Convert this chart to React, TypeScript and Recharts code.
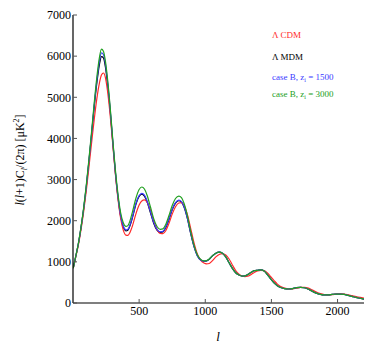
import React from 'react';
import { LineChart, Line, XAxis, YAxis } from 'recharts';

const ells = [2, 20, 40, 60, 80, 100, 120, 140, 160, 180, 200, 215, 230, 245, 260, 280, 300, 320, 340, 360, 380, 400, 415, 430, 450, 475, 500, 520, 540, 560, 585, 610, 635, 660, 680, 700, 725, 750, 775, 800, 820, 840, 865, 890, 915, 940, 965, 990, 1010, 1030, 1055, 1080, 1105, 1130, 1155, 1180, 1205, 1230, 1255, 1280, 1300, 1320, 1345, 1370, 1395, 1420, 1445, 1470, 1495, 1520, 1545, 1570, 1600, 1630, 1660, 1690, 1720, 1750, 1780, 1810, 1840, 1870, 1900, 1930, 1960, 1990, 2020, 2050, 2080, 2110, 2140, 2170, 2200];

const lcdm = [850, 1110, 1400, 1770, 2210, 2720, 3290, 3880, 4450, 4960, 5350, 5540, 5590, 5480, 5180, 4600, 3880, 3150, 2530, 2060, 1770, 1650, 1645, 1710, 1880, 2160, 2380, 2480, 2505, 2450, 2260, 2000, 1790, 1690, 1685, 1750, 1930, 2160, 2340, 2430, 2440, 2370, 2150, 1810, 1460, 1190, 1040, 970, 950, 960, 1030, 1120, 1180, 1200, 1165, 1070, 925, 790, 700, 655, 640, 650, 690, 740, 780, 795, 785, 730, 640, 545, 460, 400, 360, 342, 342, 360, 378, 380, 360, 315, 268, 230, 205, 196, 204, 216, 222, 218, 200, 178, 155, 135, 118];

const lmdm = [850, 1120, 1430, 1820, 2270, 2800, 3420, 4070, 4750, 5340, 5800, 5990, 5960, 5740, 5360, 4710, 3930, 3180, 2570, 2110, 1850, 1755, 1770, 1870, 2080, 2390, 2590, 2645, 2600, 2460, 2200, 1940, 1770, 1715, 1725, 1825, 2025, 2265, 2425, 2485, 2450, 2325, 2050, 1685, 1370, 1150, 1045, 1015, 1022, 1065, 1148, 1210, 1235, 1210, 1120, 980, 840, 735, 680, 655, 660, 690, 740, 785, 795, 805, 780, 690, 585, 490, 420, 375, 350, 340, 350, 372, 382, 370, 335, 285, 240, 210, 196, 198, 210, 218, 218, 208, 185, 160, 135, 115, 95];

const caseB1500 = [850, 1120, 1430, 1820, 2280, 2820, 3440, 4100, 4790, 5400, 5880, 6080, 6040, 5810, 5420, 4750, 3960, 3200, 2590, 2130, 1870, 1775, 1790, 1890, 2100, 2410, 2610, 2665, 2620, 2480, 2220, 1960, 1790, 1730, 1740, 1840, 2040, 2280, 2440, 2500, 2465, 2340, 2060, 1690, 1370, 1150, 1045, 1015, 1022, 1065, 1148, 1210, 1235, 1210, 1120, 980, 840, 735, 680, 655, 660, 690, 740, 785, 795, 805, 780, 690, 585, 490, 420, 375, 350, 340, 350, 372, 382, 370, 335, 285, 240, 210, 196, 198, 210, 218, 218, 208, 185, 160, 135, 115, 95];

const caseB3000 = [850, 1120, 1430, 1830, 2300, 2850, 3480, 4150, 4850, 5480, 5970, 6170, 6120, 5880, 5480, 4800, 4000, 3250, 2650, 2200, 1950, 1860, 1880, 1990, 2220, 2540, 2760, 2820, 2770, 2620, 2340, 2050, 1860, 1790, 1800, 1900, 2120, 2370, 2540, 2600, 2560, 2420, 2120, 1730, 1400, 1170, 1060, 1025, 1030, 1070, 1150, 1210, 1235, 1210, 1120, 980, 840, 735, 680, 655, 660, 690, 740, 785, 795, 805, 780, 690, 585, 490, 420, 375, 350, 340, 350, 372, 382, 370, 335, 285, 240, 210, 196, 198, 210, 218, 218, 208, 185, 160, 135, 115, 95];

const yTicks = [0, 1000, 2000, 3000, 4000, 5000, 6000, 7000];
const xTicks = [500, 1000, 1500, 2000];

const data = ells.map((l, i) => ({
  l,
  lcdm: lcdm[i],
  lmdm: lmdm[i],
  b1500: caseB1500[i],
  b3000: caseB3000[i],
}));

const FONT = "'Liberation Serif', 'Times New Roman', Times, serif";
const RED = '#ff2a2a';
const BLUE = '#3a3aff';
const GREEN = '#22a022';
const tickStyle = { fontFamily: FONT, fontSize: 12, fill: '#000', style: { fontFamily: FONT } };

export default function App() {
  return (
    <div style={{ position: 'absolute', left: 0, top: 0, width: 386, height: 355, background: '#fff', fontFamily: FONT }}>
      <LineChart
        width={386}
        height={355}
        data={data}
        margin={{ top: 15, right: 22, bottom: 22, left: 13 }}
        style={{ fontFamily: FONT }}
      >
        <XAxis
          dataKey="l"
          type="number"
          domain={[0, 2200]}
          ticks={xTicks}
          allowDataOverflow
          height={30}
          tickSize={-4}
          tickMargin={7}
          axisLine={{ stroke: '#000', strokeWidth: 1.2 }}
          tickLine={{ stroke: '#555' }}
          tick={tickStyle}
        />
        <XAxis
          xAxisId="t"
          orientation="top"
          type="number"
          domain={[0, 2200]}
          ticks={xTicks}
          height={0}
          tickSize={-4}
          tickFormatter={() => ''}
          axisLine={{ stroke: '#999', strokeWidth: 2 }}
          tickLine={{ stroke: '#555' }}
        />
        <YAxis
          type="number"
          domain={[0, 7000]}
          ticks={yTicks}
          width={60}
          tickSize={-4}
          tickMargin={6}
          axisLine={{ stroke: '#000', strokeWidth: 1.2 }}
          tickLine={{ stroke: '#555' }}
          tick={tickStyle}
        />
        <YAxis
          yAxisId="r"
          orientation="right"
          type="number"
          domain={[0, 7000]}
          ticks={yTicks}
          width={0}
          tickSize={-4}
          tickFormatter={() => ''}
          axisLine={{ stroke: '#666', strokeWidth: 1.5 }}
          tickLine={{ stroke: '#555' }}
        />
        <Line type="monotone" dataKey="lmdm" stroke="#000" strokeWidth={1.2} dot={false} isAnimationActive={false} />
        <Line type="monotone" dataKey="lcdm" stroke={RED} strokeWidth={1.2} dot={false} isAnimationActive={false} />
        <Line type="monotone" dataKey="b1500" stroke={BLUE} strokeWidth={1.2} dot={false} isAnimationActive={false} />
        <Line type="monotone" dataKey="b3000" stroke={GREEN} strokeWidth={1.2} dot={false} isAnimationActive={false} />
      </LineChart>
      <svg
        width={386}
        height={355}
        style={{ position: 'absolute', left: 0, top: 0, pointerEvents: 'none', fontFamily: FONT }}
      >
        <g fontSize={9}>
          <text x={272} y={38} fill={RED}>Λ CDM</text>
          <text x={272} y={60} fill="#000">Λ MDM</text>
          <text x={272} y={80} fill={BLUE}>
            case B, z<tspan fontSize={6} dy={2}>i</tspan><tspan dy={-2}> = 1500</tspan>
          </text>
          <text x={272} y={97} fill={GREEN}>
            case B, z<tspan fontSize={6} dy={2}>i</tspan><tspan dy={-2}> = 3000</tspan>
          </text>
        </g>
        <text
          x={24}
          y={160}
          transform="rotate(-90 24 160)"
          textAnchor="middle"
          fontSize={12}
          fill="#000"
        >
          <tspan fontStyle="italic">l</tspan>(<tspan fontStyle="italic">l</tspan>+1)C<tspan fontSize={8} dy={3} fontStyle="italic">l</tspan><tspan dy={-3}>/(2π) [μK</tspan><tspan fontSize={8} dy={-5}>2</tspan><tspan dy={5}>]</tspan>
        </text>
        <text x={218} y={341} textAnchor="middle" fontSize={13} fontStyle="italic" fill="#000">l</text>
      </svg>
    </div>
  );
}
